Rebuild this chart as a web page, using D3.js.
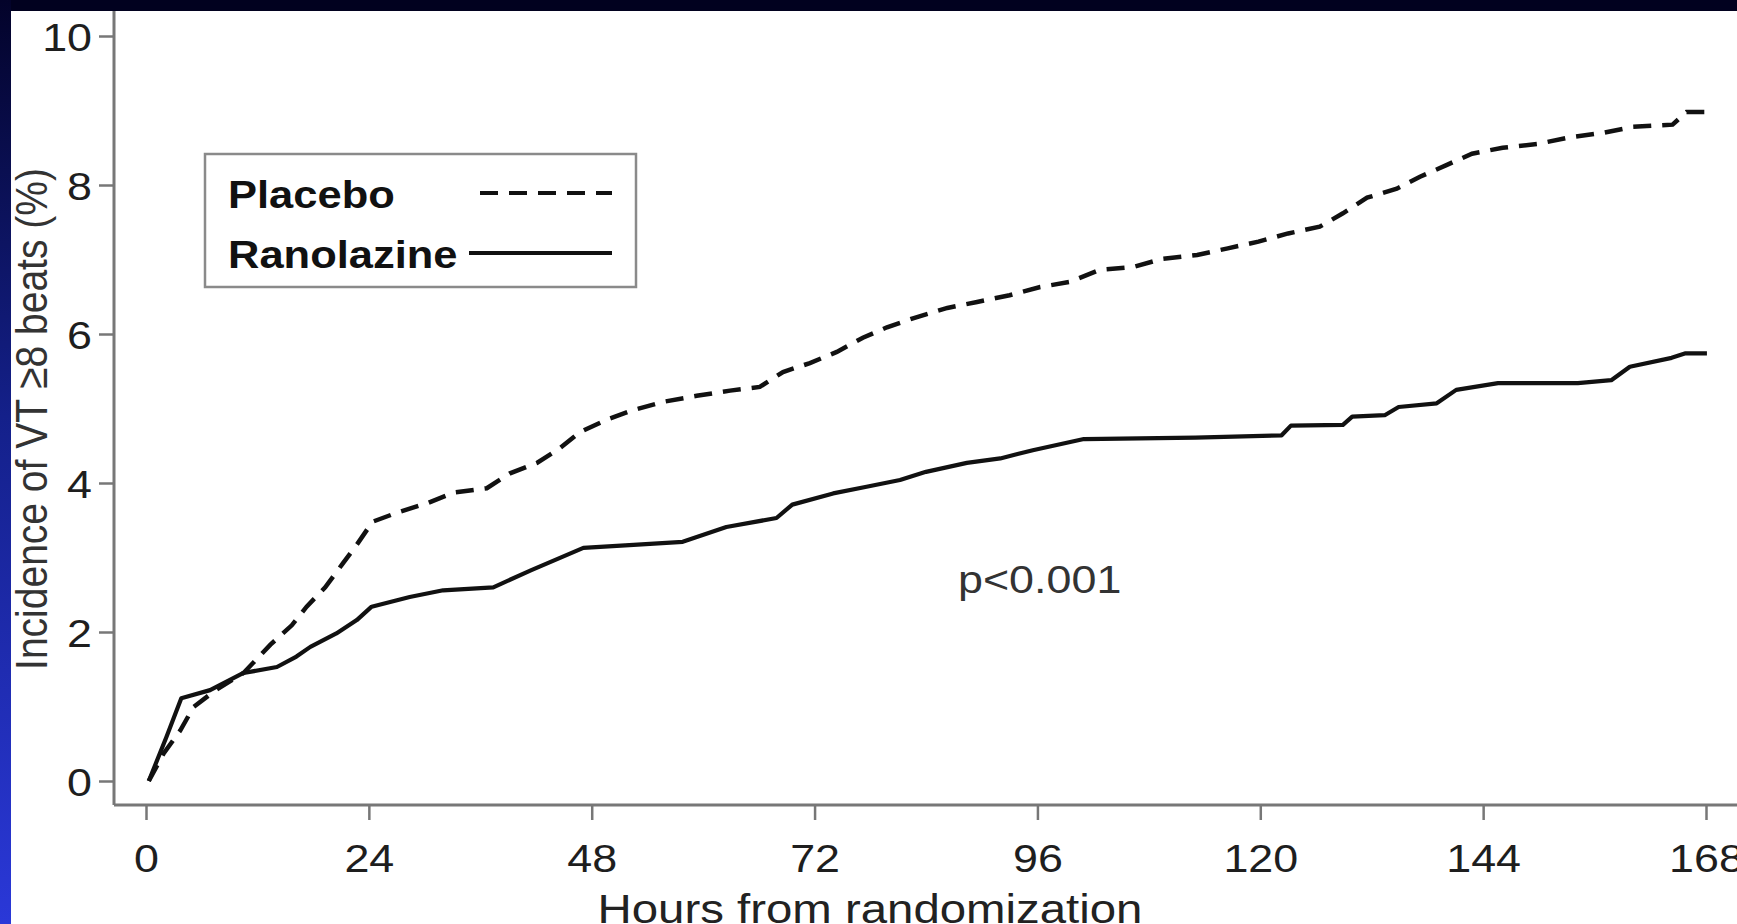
<!DOCTYPE html>
<html>
<head>
<meta charset="utf-8">
<script src="https://cdn.jsdelivr.net/npm/d3@7"></script>
<style>
  html, body { margin: 0; padding: 0; background: #ffffff; }
  svg { display: block; }
  text { font-family: "Liberation Sans", Arial, Helvetica, sans-serif; }
</style>
</head>
<body>
<svg id="chart" width="1737" height="924"></svg>
<script>
// Cumulative incidence of VT >= 8 beats by treatment arm
const placeboHours = [0.3, 1.9, 3.7, 5.1, 7.5, 10.5, 13.4, 15.7, 17.3, 19.3, 21.2, 22.8, 24.4, 27.0, 30.3, 33.1, 36.7, 39.2, 42.1, 44.6, 46.7, 49.6, 52.5, 55.7, 59.3, 62.9, 66.1, 68.6, 71.5, 74.4, 77.2, 79.8, 82.6, 86.3, 89.5, 93.0, 96.3, 99.5, 102.7, 106.3, 109.5, 113.2, 116.5, 119.8, 123.0, 126.4, 128.9, 131.5, 134.7, 137.2, 140.1, 142.8, 146.1, 149.8, 153.3, 156.9, 160.1, 164.4, 165.9, 168.2];
const placeboIncidence = [0, 0.37, 0.68, 0.99, 1.22, 1.45, 1.83, 2.09, 2.34, 2.60, 2.92, 3.19, 3.48, 3.60, 3.73, 3.87, 3.93, 4.13, 4.27, 4.47, 4.68, 4.85, 4.98, 5.09, 5.17, 5.24, 5.29, 5.49, 5.61, 5.76, 5.95, 6.09, 6.21, 6.35, 6.43, 6.52, 6.63, 6.70, 6.86, 6.90, 7.01, 7.06, 7.15, 7.24, 7.35, 7.44, 7.62, 7.83, 7.95, 8.11, 8.27, 8.42, 8.50, 8.55, 8.64, 8.70, 8.78, 8.81, 8.98, 8.98];

const ranolazineHours = [0.3, 2.2, 3.8, 6.9, 10.5, 14.1, 16.2, 17.7, 20.5, 22.7, 24.3, 28.4, 32.0, 37.4, 41.5, 47.1, 52.5, 57.8, 62.5, 67.9, 69.6, 74.0, 77.6, 81.2, 84.0, 88.4, 92.0, 95.5, 101.0, 113.0, 122.3, 123.3, 128.9, 129.9, 133.4, 134.9, 139.0, 141.1, 145.6, 154.2, 157.8, 159.8, 164.3, 165.8, 168.1];
const ranolazineIncidence = [0, 0.59, 1.11, 1.22, 1.45, 1.53, 1.67, 1.80, 1.98, 2.16, 2.34, 2.47, 2.56, 2.60, 2.83, 3.13, 3.17, 3.21, 3.41, 3.53, 3.71, 3.86, 3.95, 4.04, 4.15, 4.27, 4.33, 4.44, 4.59, 4.61, 4.64, 4.77, 4.78, 4.89, 4.91, 5.02, 5.07, 5.25, 5.34, 5.34, 5.38, 5.56, 5.68, 5.74, 5.74];

const xTicks = [0, 24, 48, 72, 96, 120, 144, 168];
const yTicks = [0, 2, 4, 6, 8, 10];

const seriesNames = ["Placebo", "Ranolazine"];
const xTitle = "Hours from randomization";
const yTitle = "Incidence of VT \u22658 beats (%)";
const pValueText = "p<0.001";

// ---- layout ----
const W = 1737, H = 924;
const axisX = 114, axisY = 805;       // positions of the axis lines
const frameTop = 11, frameLeft = 11;  // start of the white panel
const fontSize = 39;
const stretch = 1.15;                 // wide glyph aspect of the lettering
const inkColor = "#111";
const axisColor = "#777";
const curveWidth = 4.2;

const svg = d3.select("#chart");

// page backdrop: dark band on top, blue gradient strip on the left
const defs = svg.append("defs");
const grad = defs.append("linearGradient")
  .attr("id", "sideBand").attr("x1", 0).attr("y1", 0).attr("x2", 0).attr("y2", 1);
grad.append("stop").attr("offset", "0%").attr("stop-color", "#03032a");
grad.append("stop").attr("offset", "45%").attr("stop-color", "#14208a");
grad.append("stop").attr("offset", "100%").attr("stop-color", "#2a38d8");

svg.append("rect").attr("width", W).attr("height", H).attr("fill", "#ffffff");
svg.append("rect").attr("x", 0).attr("y", 0).attr("width", W).attr("height", frameTop).attr("fill", "#01011f");
svg.append("rect").attr("x", 0).attr("y", 0).attr("width", frameLeft).attr("height", H).attr("fill", "url(#sideBand)");

// ---- scales ----
const x = d3.scaleLinear().domain([0, 168]).range([146, 1706]);
const y = d3.scaleLinear().domain([0, 10]).range([781, 36]);

// ---- axes ----
const yAxis = svg.append("g")
  .attr("transform", `translate(${axisX},0)`)
  .call(d3.axisLeft(y).tickValues(yTicks).tickSize(15).tickSizeOuter(0));
yAxis.select(".domain").remove();
yAxis.selectAll(".tick line").attr("stroke", axisColor).attr("stroke-width", 2.5);
yAxis.selectAll(".tick text")
  .attr("x", -22 / stretch)
  .attr("dy", "0.36em")
  .attr("transform", `scale(${stretch},1)`)
  .attr("fill", "#1e1e1e")
  .style("font-size", fontSize + "px");

const xAxis = svg.append("g")
  .attr("transform", `translate(0,${axisY})`)
  .call(d3.axisBottom(x).tickValues(xTicks).tickSize(15).tickSizeOuter(0));
xAxis.select(".domain").remove();
xAxis.selectAll(".tick line").attr("stroke", axisColor).attr("stroke-width", 2.5);
xAxis.selectAll(".tick text")
  .attr("y", 67).attr("dy", 0)
  .attr("transform", `scale(${stretch},1)`)
  .attr("fill", "#1e1e1e")
  .style("font-size", fontSize + "px");

// axis lines run the full panel
svg.append("line")
  .attr("x1", axisX).attr("x2", axisX)
  .attr("y1", frameTop).attr("y2", axisY)
  .attr("stroke", axisColor).attr("stroke-width", 3);
svg.append("line")
  .attr("x1", axisX).attr("x2", W)
  .attr("y1", axisY).attr("y2", axisY)
  .attr("stroke", axisColor).attr("stroke-width", 3);

// axis titles
svg.append("text")
  .attr("text-anchor", "middle")
  .attr("transform", `translate(${870},${923}) scale(${stretch * 1.03},1)`)
  .attr("fill", "#222")
  .style("font-size", (fontSize + 1) + "px")
  .text(xTitle);

svg.append("text")
  .attr("text-anchor", "middle")
  .attr("transform", `translate(${47},${419}) scale(${stretch},1) rotate(-90)`)
  .attr("fill", "#333")
  .style("font-size", fontSize + "px")
  .text(yTitle);

// ---- curves ----
const line = d3.line()
  .x(d => x(d[0]))
  .y(d => y(d[1]))
  .curve(d3.curveLinear);

const placebo = placeboHours.map((h, i) => [h, placeboIncidence[i]]);
const ranolazine = ranolazineHours.map((h, i) => [h, ranolazineIncidence[i]]);

svg.append("path")
  .datum(ranolazine)
  .attr("d", line)
  .attr("fill", "none")
  .attr("stroke", inkColor)
  .attr("stroke-width", curveWidth)
  .attr("stroke-linejoin", "round");

svg.append("path")
  .datum(placebo)
  .attr("d", line)
  .attr("fill", "none")
  .attr("stroke", inkColor)
  .attr("stroke-width", curveWidth + 0.3)
  .attr("stroke-dasharray", "18,11");

// ---- legend ----
const legend = svg.append("g");
legend.append("rect")
  .attr("x", 205).attr("y", 154)
  .attr("width", 431).attr("height", 133)
  .attr("fill", "#ffffff")
  .attr("stroke", "#8a8a8a").attr("stroke-width", 2.5);

const legendRows = [
  { name: seriesNames[0], dash: "18,11", baseline: 208, lineY: 193, x1: 480 },
  { name: seriesNames[1], dash: null, baseline: 268, lineY: 253, x1: 469 }
];
legendRows.forEach(r => {
  legend.append("text")
    .attr("transform", `translate(228,${r.baseline}) scale(${stretch * 0.97},1)`)
    .attr("fill", "#111")
    .style("font-size", fontSize + "px")
    .style("font-weight", "bold")
    .text(r.name);
  legend.append("line")
    .attr("x1", r.x1).attr("x2", 612)
    .attr("y1", r.lineY).attr("y2", r.lineY)
    .attr("stroke", inkColor).attr("stroke-width", curveWidth)
    .attr("stroke-dasharray", r.dash);
});

// ---- significance annotation ----
svg.append("text")
  .attr("transform", `translate(958,593) scale(${stretch},1)`)
  .attr("fill", "#333")
  .style("font-size", fontSize + "px")
  .text(pValueText);
</script>
</body>
</html>
